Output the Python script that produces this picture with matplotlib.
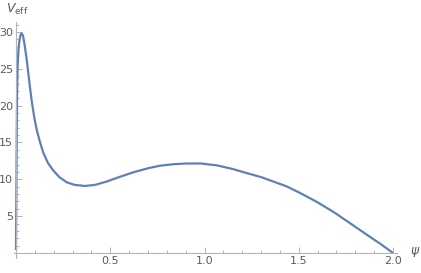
import matplotlib
matplotlib.use("Agg")
import matplotlib.pyplot as plt
from matplotlib.ticker import MultipleLocator, FixedLocator

psi = [0.0, 0.002, 0.004, 0.006, 0.009, 0.013, 0.018, 0.024, 0.030, 0.037,
       0.045, 0.057, 0.070, 0.083, 0.097, 0.11, 0.128, 0.145, 0.17, 0.198,
       0.23, 0.269, 0.31, 0.366, 0.42, 0.481, 0.552, 0.622, 0.70, 0.764,
       0.835, 0.905, 0.98, 1.065, 1.15, 1.224, 1.30, 1.365, 1.435, 1.507,
       1.595, 1.683, 1.772, 1.86, 1.93, 2.0]
veff = [0.4, 8.0, 16.0, 22.0, 25.5, 27.5, 28.8, 29.6, 29.8, 29.5,
        28.4, 26.2, 23.4, 20.7, 18.4, 16.7, 15.0, 13.6, 12.2, 11.2,
        10.3, 9.6, 9.25, 9.1, 9.25, 9.7, 10.35, 10.95, 11.5, 11.85,
        12.05, 12.15, 12.15, 11.9, 11.4, 10.85, 10.3, 9.7, 9.05, 8.15,
        6.95, 5.6, 4.05, 2.5, 1.3, 0.0]

xticks = [0.5, 1.0, 1.5, 2.0]
xticklabels = ["0.5", "1.0", "1.5", "2.0"]
yticks = [5, 10, 15, 20, 25, 30]
yticklabels = ["5", "10", "15", "20", "25", "30"]

axis_color = "#b4b4b4"
text_color = "#5a5a5a"
line_color = "#5e81b5"

fig = plt.figure(figsize=(4.21, 2.73), dpi=100)
ax = fig.add_axes([0.0335, 0.0542, 0.909, 0.864])
ax.plot(psi, veff, color=line_color, lw=1.6, solid_capstyle="butt",
        solid_joinstyle="round", clip_on=False)

ax.set_xlim(-0.01, 2.02)
ax.set_ylim(-0.7, 31.3)
for s in ["top", "right"]:
    ax.spines[s].set_visible(False)
ax.spines["bottom"].set_position(("data", 0))
ax.spines["left"].set_position(("data", 0))
for s in ["bottom", "left"]:
    ax.spines[s].set_color(axis_color)
    ax.spines[s].set_linewidth(0.8)

ax.xaxis.set_major_locator(FixedLocator(xticks))
ax.set_xticklabels(xticklabels)
ax.xaxis.set_minor_locator(MultipleLocator(0.1))
ax.yaxis.set_major_locator(FixedLocator(yticks))
ax.set_yticklabels(yticklabels)
ax.yaxis.set_minor_locator(MultipleLocator(1))

ax.tick_params(which="both", direction="in", color=axis_color, width=0.7,
               labelcolor=text_color, labelsize=8)
ax.tick_params(which="major", length=4, pad=2)
ax.tick_params(which="minor", length=2.2)

fig.text(6 / 421, 1 - 9 / 273, r"$V_{\mathrm{eff}}$", color=text_color,
         fontsize=9, va="center", ha="left")
fig.text(410 / 421, 1 - 252 / 273, r"$\psi$", color=text_color,
         fontsize=9, va="center", ha="left")

fig.savefig("out.png", dpi=100)
